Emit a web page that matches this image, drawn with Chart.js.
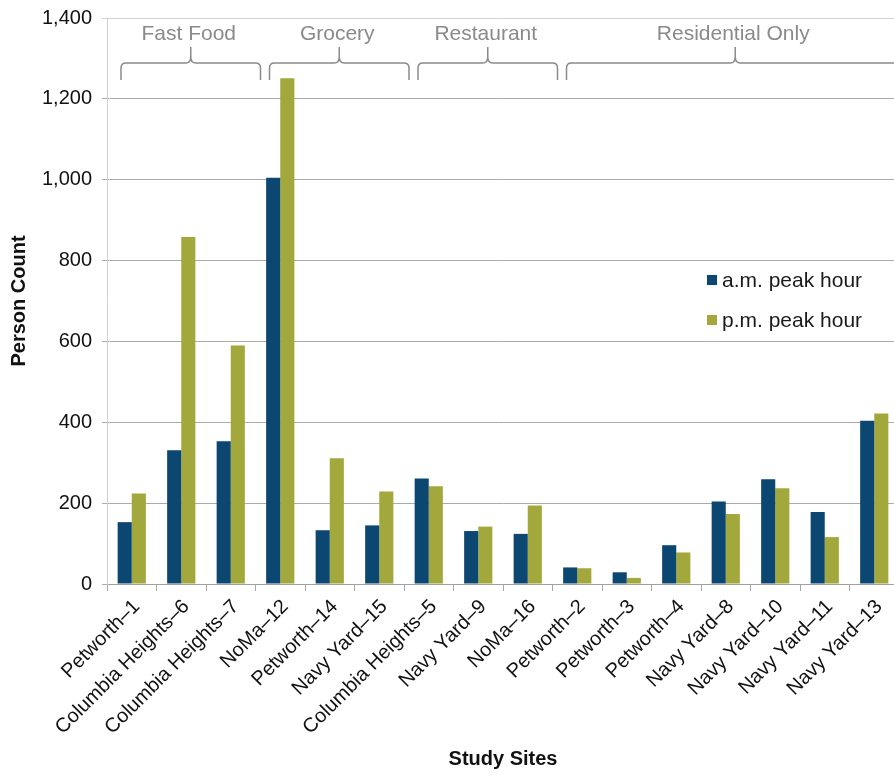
<!DOCTYPE html>
<html>
<head>
<meta charset="utf-8">
<script src="https://cdn.jsdelivr.net/npm/chart.js@4/dist/chart.umd.min.js"></script>
<style>
    html, body { margin: 0; padding: 0; overflow: hidden; background: #fff; }
    #wrap { width: 902px; height: 775px; }
</style>
</head>
<body>
<div id="wrap"><canvas id="counts"></canvas></div>
<script>
const sites = [
    'Petworth\u20131', 'Columbia Heights\u20136', 'Columbia Heights\u20137',
    'NoMa\u201312', 'Petworth\u201314', 'Navy Yard\u201315',
    'Columbia Heights\u20135', 'Navy Yard\u20139', 'NoMa\u201316',
    'Petworth\u20132', 'Petworth\u20133', 'Petworth\u20134',
    'Navy Yard\u20138', 'Navy Yard\u201310', 'Navy Yard\u201311', 'Navy Yard\u201313'
];
const amPeak = [153, 331, 353, 1005, 133, 145, 261, 131, 124, 41, 29, 96, 204, 259, 178, 404];
const pmPeak = [224, 858, 590, 1251, 311, 229, 242, 142, 194, 39, 15, 78, 173, 237, 116, 422];

// land-use groups, first and last site index of each
const groupNames = ['Fast Food', 'Grocery', 'Restaurant', 'Residential Only'];
const groupFirst = [0, 3, 6, 9];
const groupLast = [2, 5, 8, 15];

const yTicks = [0, 200, 400, 600, 800, 1000, 1200, 1400];

const BLUE = '#0c4772';
const GREEN = '#a2a83b';
const GREY = '#8a8a8a';
const FONT = "'Liberation Sans', Arial, Helvetica, sans-serif";

Chart.defaults.font.family = FONT;
Chart.defaults.font.size = 20;
Chart.defaults.color = '#111';

// curly braces with the group name above them
const groupBraces = {
    id: 'groupBraces',
    afterDatasetsDraw(chart) {
        const ctx = chart.ctx;
        const x = chart.scales.x;
        const step = x.getPixelForValue(1) - x.getPixelForValue(0);
        const yLine = 63, yEnd = 80, yTip = 47;
        ctx.save();
        ctx.strokeStyle = GREY;
        ctx.lineWidth = 1.5;
        ctx.fillStyle = GREY;
        ctx.textAlign = 'center';
        ctx.textBaseline = 'middle';
        ctx.font = '21px ' + FONT;
        groupNames.forEach((name, i) => {
            const x0 = x.getPixelForValue(groupFirst[i]) - step / 2 + 14;
            const x1 = x.getPixelForValue(groupLast[i]) + step / 2 + 5;
            const xc = (x0 + x1) / 2;
            ctx.beginPath();
            ctx.moveTo(x0, yEnd);
            ctx.lineTo(x0, yLine + 5);
            ctx.quadraticCurveTo(x0, yLine, x0 + 5, yLine);
            ctx.lineTo(xc - 5, yLine);
            ctx.quadraticCurveTo(xc, yLine, xc, yLine - 6);
            ctx.lineTo(xc, yTip);
            ctx.moveTo(xc, yLine - 6);
            ctx.quadraticCurveTo(xc, yLine, xc + 5, yLine);
            ctx.lineTo(x1 - 5, yLine);
            ctx.quadraticCurveTo(x1, yLine, x1, yLine + 5);
            ctx.lineTo(x1, yEnd);
            ctx.stroke();
            ctx.fillText(name, xc - 2, 34);
        });
        ctx.restore();
    }
};

// legend sitting inside the plot area
const innerLegend = {
    id: 'innerLegend',
    afterDraw(chart) {
        const ctx = chart.ctx;
        const area = chart.chartArea;
        const left = area.right - 192;
        let y = area.top + 262;
        ctx.save();
        ctx.textAlign = 'left';
        ctx.textBaseline = 'middle';
        ctx.font = '21px ' + FONT;
        chart.data.datasets.forEach(ds => {
            ctx.fillStyle = ds.backgroundColor;
            ctx.fillRect(left, y - 5, 10, 10);
            ctx.fillStyle = '#1a1a1a';
            ctx.fillText(ds.label, left + 15, y + 1);
            y += 40;
        });
        ctx.restore();
    }
};

const chart = new Chart(document.getElementById('counts'), {
    type: 'bar',
    data: {
        labels: sites,
        datasets: [
            { label: 'a.m. peak hour', data: amPeak, backgroundColor: BLUE },
            { label: 'p.m. peak hour', data: pmPeak, backgroundColor: GREEN }
        ]
    },
    options: {
        responsive: true,
        maintainAspectRatio: false,
        animation: false,
        categoryPercentage: 0.57,
        barPercentage: 1,
        layout: { padding: { top: 18, right: 3, left: 0, bottom: 0 } },
        plugins: {
            legend: { display: false },
            tooltip: { enabled: false }
        },
        scales: {
            x: {
                grid: {
                    offset: true,
                    drawOnChartArea: false,
                    tickLength: 7,
                    color: '#a8a8a8'
                },
                border: { color: '#a0a0a0' },
                ticks: {
                    autoSkip: false,
                    minRotation: 45,
                    maxRotation: 45,
                    labelOffset: 5,
                    padding: 4,
                    color: '#111'
                },
                title: {
                    display: true,
                    text: 'Study Sites',
                    font: { weight: 'bold', size: 20 },
                    padding: { top: 4, bottom: 4 }
                },
                afterFit(scale) { scale.height = 191; }
            },
            y: {
                min: 0,
                max: 1400,
                afterBuildTicks(scale) {
                    scale.ticks = yTicks.map(v => ({ value: v }));
                },
                ticks: {
                    padding: 10,
                    color: '#111',
                    callback: v => v.toLocaleString('en-US')
                },
                grid: {
                    tickLength: 5,
                    color: ctx => ctx.tick && ctx.tick.value === 1400 ? '#d2d2d2' : '#ababab'
                },
                border: { color: '#cfcfcf' },
                title: {
                    display: true,
                    text: 'Person Count',
                    font: { weight: 'bold', size: 20 },
                    padding: { top: 7, bottom: 4 }
                },
                afterFit(scale) {
                    scale.width = 107;
                    scale.paddingTop = 0;
                }
            }
        }
    },
    plugins: [groupBraces, innerLegend]
});
</script>
</body>
</html>
